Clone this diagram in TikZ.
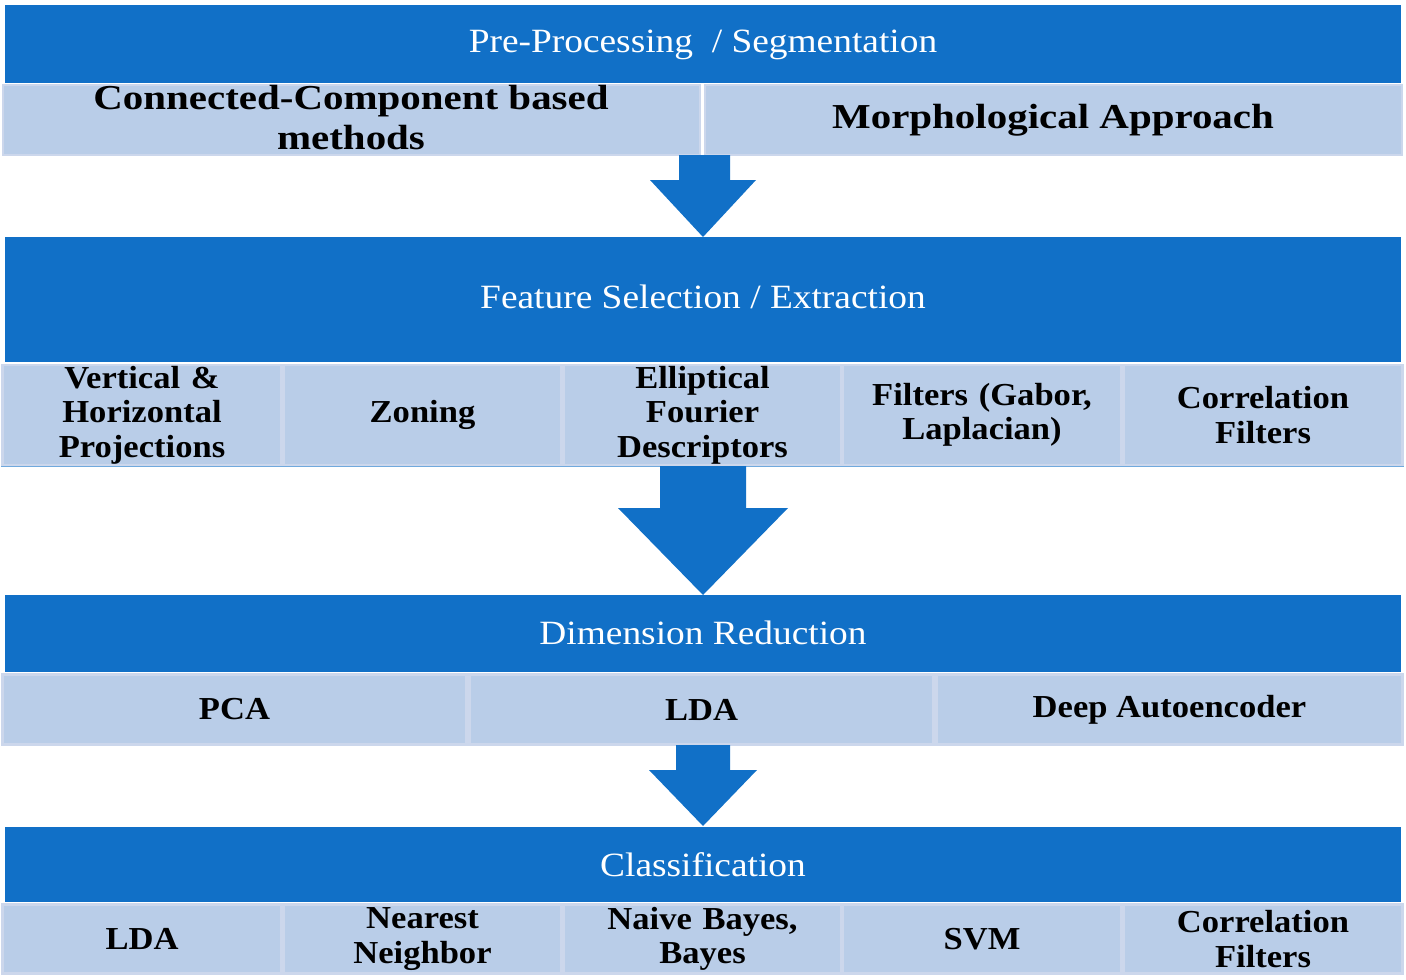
\documentclass[tikz,border=0pt]{standalone}
\usepackage{fontspec}
\setmainfont{Liberation Serif}
\newfontfamily\hdrfont[FakeStretch=1.1]{Liberation Serif}
\newfontfamily\cellfont[FakeStretch=1.08]{Liberation Serif}
\newfontfamily\bigfont[FakeStretch=1.17]{Liberation Serif}
\definecolor{hdrblue}{HTML}{1170C7}
\definecolor{cellfill}{HTML}{B9CDE8}
\definecolor{cellline}{HTML}{CCD7EC}
\tikzset{
  hdr/.style={fill=hdrblue, draw=none, inner sep=0pt, minimum width=1396pt},
  hdrtext/.style={text=white, inner sep=0pt, font=\hdrfont\fontsize{34}{38}\selectfont},
  cell/.style={fill=cellfill, draw=cellline, line width=2.5pt, inner sep=0pt, align=center,
    font=\cellfont\bfseries\fontsize{32}{34.5}\selectfont},
  bigcell/.style={fill=cellfill, draw=cellline, line width=2.5pt, inner sep=0pt},
  bigtext/.style={inner sep=0pt, align=center, font=\bigfont\bfseries\fontsize{35}{40}\selectfont},
  blockarrow/.style={fill=hdrblue, draw=none}
}
\begin{document}
\begin{tikzpicture}[x=1pt,y=-1pt]
\useasboundingbox (0,0) rectangle (1406,980);
% Stage 1
\node[hdr, minimum height=78pt] (h1) at (703,44) {};
\node[hdrtext] (h1t) at (703,45) {Pre-Processing~~/ Segmentation};
\node[bigcell, minimum width=697pt, minimum height=70pt] (c11) at (351.5,120) {};
\node[bigcell, minimum width=697pt, minimum height=70pt] (c12) at (1053.5,120) {};
\node[bigtext] (c11t) at (351,118) {Connected-Component based\\methods};
\node[bigtext] (c12t) at (1053,120) {Morphological Approach};
% Arrow 1
\fill[blockarrow] (679,155) -- (730,155) -- (730,180) -- (756,180) -- (703,237) -- (650,180) -- (679,180) -- cycle;
% Stage 2
\node[hdr, minimum height=125pt] (h2) at (703,299.5) {};
\node[hdrtext] (h2t) at (703,297) {Feature Selection / Extraction};
\node[cell, minimum width=279pt, minimum height=100pt, text width=272pt] (c21) at (142,415) {Vertical \&\\Horizontal\\Projections};
\node[cell, minimum width=278pt, minimum height=100pt, text width=272pt] (c22) at (422.5,415) {Zoning};
\node[cell, minimum width=278pt, minimum height=100pt, text width=272pt] (c23) at (702.5,415) {Elliptical\\Fourier\\Descriptors};
\node[cell, minimum width=278pt, minimum height=100pt, text width=272pt] (c24) at (982,415) {Filters (Gabor,\\Laplacian)};
\node[cell, minimum width=279pt, minimum height=100pt, text width=272pt] (c25) at (1263,415) {Correlation\\Filters};
\draw[hdrblue!60, line width=1.5pt] (c21.south west) -- (c25.south east);
% Arrow 2
\fill[blockarrow] (660,466) -- (746,466) -- (746,508) -- (788,508) -- (703,595) -- (618,508) -- (660,508) -- cycle;
% Stage 3
\node[hdr, minimum height=77pt] (h3) at (703,633.5) {};
\node[hdrtext] (h3t) at (703,633) {Dimension Reduction};
\node[cell, minimum width=464pt, minimum height=70pt] (c31) at (234.5,709.5) {PCA};
\node[cell, minimum width=464pt, minimum height=70pt] (c32) at (701.5,709.5) {LDA};
\node[cell, minimum width=466pt, minimum height=70pt] (c33) at (1169.5,709.5) {Deep Autoencoder};
% Arrow 3
\fill[blockarrow] (676,745) -- (730,745) -- (730,770) -- (757,770) -- (703,826) -- (649,770) -- (676,770) -- cycle;
% Stage 4
\node[hdr, minimum height=75pt] (h4) at (703,864.5) {};
\node[hdrtext] (h4t) at (703,865) {Classification};
\node[cell, minimum width=279pt, minimum height=69pt, text width=272pt] (c41) at (142,939) {LDA};
\node[cell, minimum width=278pt, minimum height=69pt, text width=272pt] (c42) at (422.5,939) {Nearest\\Neighbor};
\node[cell, minimum width=278pt, minimum height=69pt, text width=272pt] (c43) at (702.5,939) {Naive Bayes,\\Bayes};
\node[cell, minimum width=278pt, minimum height=69pt, text width=272pt] (c44) at (982,939) {SVM};
\node[cell, minimum width=279pt, minimum height=69pt, text width=272pt] (c45) at (1263,939) {Correlation\\Filters};
\end{tikzpicture}
\end{document}
